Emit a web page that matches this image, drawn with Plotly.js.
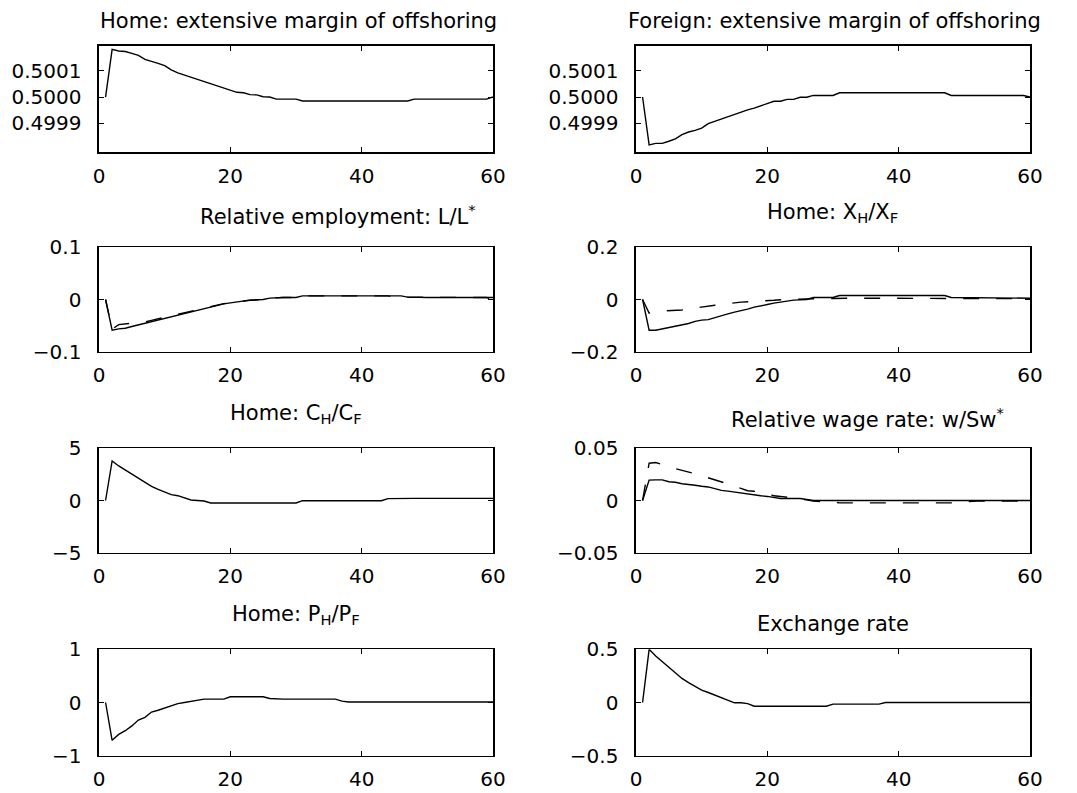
<!DOCTYPE html>
<html>
<head>
<meta charset="utf-8">
<script src="https://cdn.plot.ly/plotly-3.0.1.min.js"></script>
<style>
  html, body { margin: 0; padding: 0; background: #ffffff; }
  #chart { width: 1077px; height: 793px; }
</style>
</head>
<body>
<div id="chart"></div>
<script>
// Impulse responses over 60 periods: solid = baseline model, dashed = alternative.
const periods = [1,2,3,4,5,6,7,8,9,10,11,12,13,14,15,16,17,18,19,20,
  21,22,23,24,25,26,27,28,29,30,31,32,33,34,35,36,37,38,39,40,
  41,42,43,44,45,46,47,48,49,50,51,52,53,54,55,56,57,58,59,60];

const homeExtMargin = [0.5,0.500181,0.500175,0.500173,0.500166,0.500158,0.500143,0.500134,0.500128,0.500119,
  0.500103,0.500092,0.500084,0.500075,0.500066,0.500057,0.500049,0.500043,0.500035,0.500027,
  0.500018,0.500016,0.500009,0.500008,0.500001,0.5,0.499992,0.499992,0.499992,0.499992,
  0.499985,0.499985,0.499985,0.499985,0.499985,0.499985,0.499985,0.499985,0.499985,0.499985,
  0.499985,0.499985,0.499985,0.499985,0.499985,0.499985,0.499985,0.499992,0.499992,0.499992,
  0.499992,0.499992,0.499992,0.499992,0.499992,0.499992,0.499992,0.499992,0.499992,0.5];

const foreignExtMargin = [0.5,0.499818,0.499824,0.499824,0.499832,0.499841,0.499857,0.499867,0.499873,0.499882,
  0.499899,0.499908,0.499916,0.499925,0.499934,0.499943,0.499951,0.499958,0.499966,0.499975,
  0.499984,0.499984,0.499991,0.499991,0.499999,0.499999,0.500006,0.500006,0.500006,0.500006,
  0.500016,0.500016,0.500016,0.500016,0.500016,0.500016,0.500016,0.500016,0.500016,0.500016,
  0.500016,0.500016,0.500016,0.500016,0.500016,0.500016,0.500016,0.500006,0.500006,0.500006,
  0.500006,0.500006,0.500006,0.500006,0.500006,0.500006,0.500006,0.500006,0.500006,0.5];

const relEmployment = [0,-0.0588,-0.0562,-0.0550,-0.0518,-0.0486,-0.0466,-0.0435,-0.0403,-0.0364,
  -0.0326,-0.0300,-0.0262,-0.0230,-0.0198,-0.0166,-0.0134,-0.0109,-0.0083,-0.0064,
  -0.0045,-0.0032,-0.0013,-0.0006,0,0.0026,0.0038,0.0038,0.0038,0.0038,
  0.0070,0.0070,0.0070,0.0070,0.0070,0.0070,0.0070,0.0070,0.0070,0.0070,
  0.0070,0.0070,0.0070,0.0070,0.0070,0.0070,0.0045,0.0038,0.0038,0.0038,
  0.0038,0.0038,0.0038,0.0038,0.0038,0.0038,0.0038,0.0038,0.0038,0.0038];
const relEmploymentAlt = [0,-0.057,-0.048,-0.047,-0.046,-0.045,-0.043,-0.040,-0.037,-0.034,
  -0.031,-0.028,-0.025,-0.022,-0.019,-0.016,-0.013,-0.010,-0.008,-0.006,
  -0.004,-0.003,-0.0015,-0.0008,0,0.0026,0.0038,0.0038,0.0038,0.0038,
  0.0070,0.0070,0.0070,0.0070,0.0070,0.0070,0.0070,0.0070,0.0070,0.0070,
  0.0070,0.0070,0.0070,0.0070,0.0045,0.0045,0.0038,0.0038,0.0038,0.0038,
  0.0038,0.0038,0.0038,0.0038,0.0038,0.0038,0.0038,0.0038,0.0038,0.0];

const exportRatio = [0,-0.1176,-0.1176,-0.1125,-0.110,-0.105,-0.0997,-0.092,-0.084,-0.079,
  -0.077,-0.069,-0.061,-0.055,-0.0486,-0.0435,-0.037,-0.0294,-0.0256,-0.0192,
  -0.014,-0.010,-0.005,-0.0025,-0.0013,0,0.0077,0.0077,0.0077,0.0077,
  0.0153,0.0153,0.0153,0.0153,0.0153,0.0153,0.0153,0.0153,0.0153,0.0153,
  0.0153,0.0153,0.0153,0.0153,0.0153,0.0153,0.0153,0.0077,0.0077,0.0077,
  0.0077,0.0077,0.0077,0.0077,0.0077,0.0077,0.0077,0.0077,0.0077,0.005];
const exportRatioAlt = [0,-0.052,-0.045,-0.0435,-0.0435,-0.042,-0.040,-0.036,-0.032,-0.028,
  -0.024,-0.022,-0.019,-0.015,-0.013,-0.010,-0.009,-0.008,-0.005,-0.004,
  -0.003,-0.001,0,0.0013,0.0013,0.0013,0.004,0.004,0.004,0.004,
  0.005,0.005,0.005,0.005,0.005,0.005,0.005,0.005,0.005,0.005,
  0.005,0.005,0.005,0.005,0.005,0.005,0.005,0.004,0.004,0.004,
  0.004,0.004,0.004,0.004,0.004,0.004,0.004,0.004,0.004,0.003];

const consumptionRatio = [0,3.79,3.31,2.92,2.50,2.10,1.68,1.36,1.07,0.81,
  0.56,0.46,0.27,0.05,0,-0.05,-0.24,-0.24,-0.24,-0.24,
  -0.24,-0.24,-0.24,-0.24,-0.24,-0.24,-0.24,-0.24,-0.24,-0.24,
  -0.02,-0.02,-0.02,-0.02,-0.02,-0.02,-0.02,-0.02,-0.02,-0.02,
  -0.02,-0.02,-0.02,0.18,0.2,0.2,0.2,0.2,0.2,0.2,
  0.2,0.2,0.2,0.2,0.2,0.2,0.2,0.2,0.2,0.2];

const relWage = [0,0.0195,0.0198,0.0198,0.018,0.0175,0.016,0.0156,0.0146,0.0136,
  0.013,0.0114,0.0097,0.009,0.008,0.0068,0.0058,0.0052,0.0045,0.0039,
  0.0026,0.0019,0.0019,0.0019,0.0019,0.001,0,0,0,0,
  0,0,0,0,0,0,0,0,0,0,
  0,0,0,0,0,0,0,0,0,0,
  0,0,0,0,0,0,0,0,0,0];
const relWageAlt = [0,0.0357,0.0364,0.0347,0.0325,0.0305,0.029,0.0273,0.0257,0.0237,
  0.0218,0.0201,0.0182,0.0159,0.0136,0.0114,0.0094,0.0088,0.0084,0.0065,
  0.0045,0.0039,0.0032,0.0023,0.0016,0.0006,-0.0006,-0.0013,-0.0013,-0.0013,
  -0.0023,-0.0023,-0.0023,-0.0023,-0.0023,-0.0023,-0.0023,-0.0023,-0.0023,-0.0023,
  -0.0023,-0.0023,-0.0023,-0.0023,-0.0023,-0.0023,-0.0023,-0.0023,-0.0023,-0.0013,
  -0.0006,-0.0006,-0.0006,-0.0006,-0.0006,-0.0006,-0.0006,-0.0006,-0.0006,-0.0006];

const priceRatio = [0,-0.71,-0.60,-0.53,-0.44,-0.33,-0.28,-0.18,-0.145,-0.10,
  -0.05,-0.02,0,0.025,0.045,0.063,0.063,0.063,0.063,0.107,
  0.107,0.107,0.107,0.107,0.107,0.075,0.063,0.063,0.063,0.063,
  0.063,0.063,0.063,0.063,0.063,0.063,0.025,0.01,0.01,0.01,
  0.01,0.01,0.01,0.01,0.01,0.01,0.01,0.01,0.01,0.01,
  0.01,0.01,0.01,0.01,0.01,0.01,0.01,0.01,0.01,0.01];

const exchangeRate = [0,0.5,0.437,0.384,0.33,0.274,0.226,0.186,0.148,0.116,
  0.094,0.069,0.044,0.022,-0.003,-0.003,-0.01,-0.035,-0.035,-0.035,
  -0.035,-0.035,-0.035,-0.035,-0.035,-0.035,-0.035,-0.035,-0.035,-0.015,
  -0.015,-0.015,-0.015,-0.015,-0.015,-0.015,-0.015,0,0,0,
  0,0,0,0,0,0,0,0,0,0,
  0,0,0,0,0,0,0,0,0,0];

const panelTitles = [
  'Home: extensive margin of offshoring',
  'Foreign: extensive margin of offshoring',
  'Relative employment: L/L<sup>*</sup>',
  'Home: X<sub>H</sub>/X<sub>F</sub>',
  'Home: C<sub>H</sub>/C<sub>F</sub>',
  'Relative wage rate: w/Sw<sup>*</sup>',
  'Home: P<sub>H</sub>/P<sub>F</sub>',
  'Exchange rate'
];
const xTicks = [0, 20, 40, 60];
const yTicks = [
  [0.4999, 0.5, 0.5001],
  [0.4999, 0.5, 0.5001],
  [-0.1, 0, 0.1],
  [-0.2, 0, 0.2],
  [-5, 0, 5],
  [-0.05, 0, 0.05],
  [-1, 0, 1],
  [-0.5, 0, 0.5]
];
const yRanges = [
  [0.49979, 0.500195],
  [0.49979, 0.500195],
  [-0.1, 0.1],
  [-0.2, 0.2],
  [-5, 5],
  [-0.05, 0.05],
  [-1, 1],
  [-0.5, 0.5]
];
const solidSeries = [homeExtMargin, foreignExtMargin, relEmployment, exportRatio,
  consumptionRatio, relWage, priceRatio, exchangeRate];
const dashedSeries = [null, null, relEmploymentAlt, exportRatioAlt, null, relWageAlt, null, null];

// Page geometry (pixels)
const W = 1077, H = 793;
const colPx = [[99, 493], [636, 1030]];
const rowPx = [[45.7, 152.3], [247.3, 351.7], [448.3, 552.7], [649.3, 755.7]];
// title vertical lift above the axes box and horizontal nudge, per panel
const titleLift = [11, 11, 16, 19, 19, 14, 19, 11];
const titleNudge = [2, 2, 42, 0, 0, 35, 0, 0];

const FONT = 'DejaVu Sans, Liberation Sans, Arial, sans-serif';
const TICK_SIZE = 20;
const TITLE_SIZE = 21;

const traces = [];
const layout = {
  width: W, height: H,
  margin: {l: 0, r: 0, t: 0, b: 0},
  paper_bgcolor: '#ffffff',
  plot_bgcolor: '#ffffff',
  showlegend: false,
  font: {family: FONT, size: TICK_SIZE, color: '#000000'},
  annotations: []
};

for (let i = 0; i < 8; i++) {
  const row = Math.floor(i / 2), col = i % 2;
  const n = i === 0 ? '' : String(i + 1);
  const xd = [colPx[col][0] / W, colPx[col][1] / W];
  const yd = [1 - rowPx[row][1] / H, 1 - rowPx[row][0] / H];

  layout['xaxis' + n] = {
    domain: xd, anchor: 'y' + n, range: [0, 60],
    tickmode: 'array', tickvals: xTicks,
    ticks: 'inside', ticklen: 5, tickwidth: 1, tickcolor: '#000000',
    showline: true, linecolor: '#000000', linewidth: 1.6, mirror: 'ticks',
    showgrid: false, zeroline: false, fixedrange: true,
    ticklabelstandoff: 5,
    tickfont: {family: FONT, size: TICK_SIZE, color: '#000000'}
  };
  layout['yaxis' + n] = {
    domain: yd, anchor: 'x' + n, range: yRanges[i],
    tickmode: 'array', tickvals: yTicks[i],
    tickformat: i < 2 ? '.4f' : '',
    ticks: 'inside', ticklen: 5, tickwidth: 1, tickcolor: '#000000',
    showline: true, linecolor: '#000000', linewidth: 1.6, mirror: 'ticks',
    showgrid: false, zeroline: false, fixedrange: true,
    ticklabelstandoff: 12,
    tickfont: {family: FONT, size: TICK_SIZE, color: '#000000'}
  };

  traces.push({
    x: periods, y: solidSeries[i], xaxis: 'x' + n, yaxis: 'y' + n,
    type: 'scatter', mode: 'lines',
    line: {color: '#000000', width: 1.4}, hoverinfo: 'skip'
  });
  if (dashedSeries[i]) {
    traces.push({
      x: periods, y: dashedSeries[i], xaxis: 'x' + n, yaxis: 'y' + n,
      type: 'scatter', mode: 'lines',
      line: {color: '#000000', width: 1.4, dash: '16px,17px'}, hoverinfo: 'skip'
    });
  }

  layout.annotations.push({
    text: panelTitles[i], xref: 'paper', yref: 'paper',
    x: (xd[0] + xd[1]) / 2, y: yd[1],
    xanchor: 'center', yanchor: 'bottom',
    xshift: titleNudge[i], yshift: titleLift[i],
    showarrow: false,
    font: {family: FONT, size: TITLE_SIZE, color: '#000000'}
  });
}

Plotly.newPlot('chart', traces, layout, {staticPlot: true, displayModeBar: false});
</script>
</body>
</html>
